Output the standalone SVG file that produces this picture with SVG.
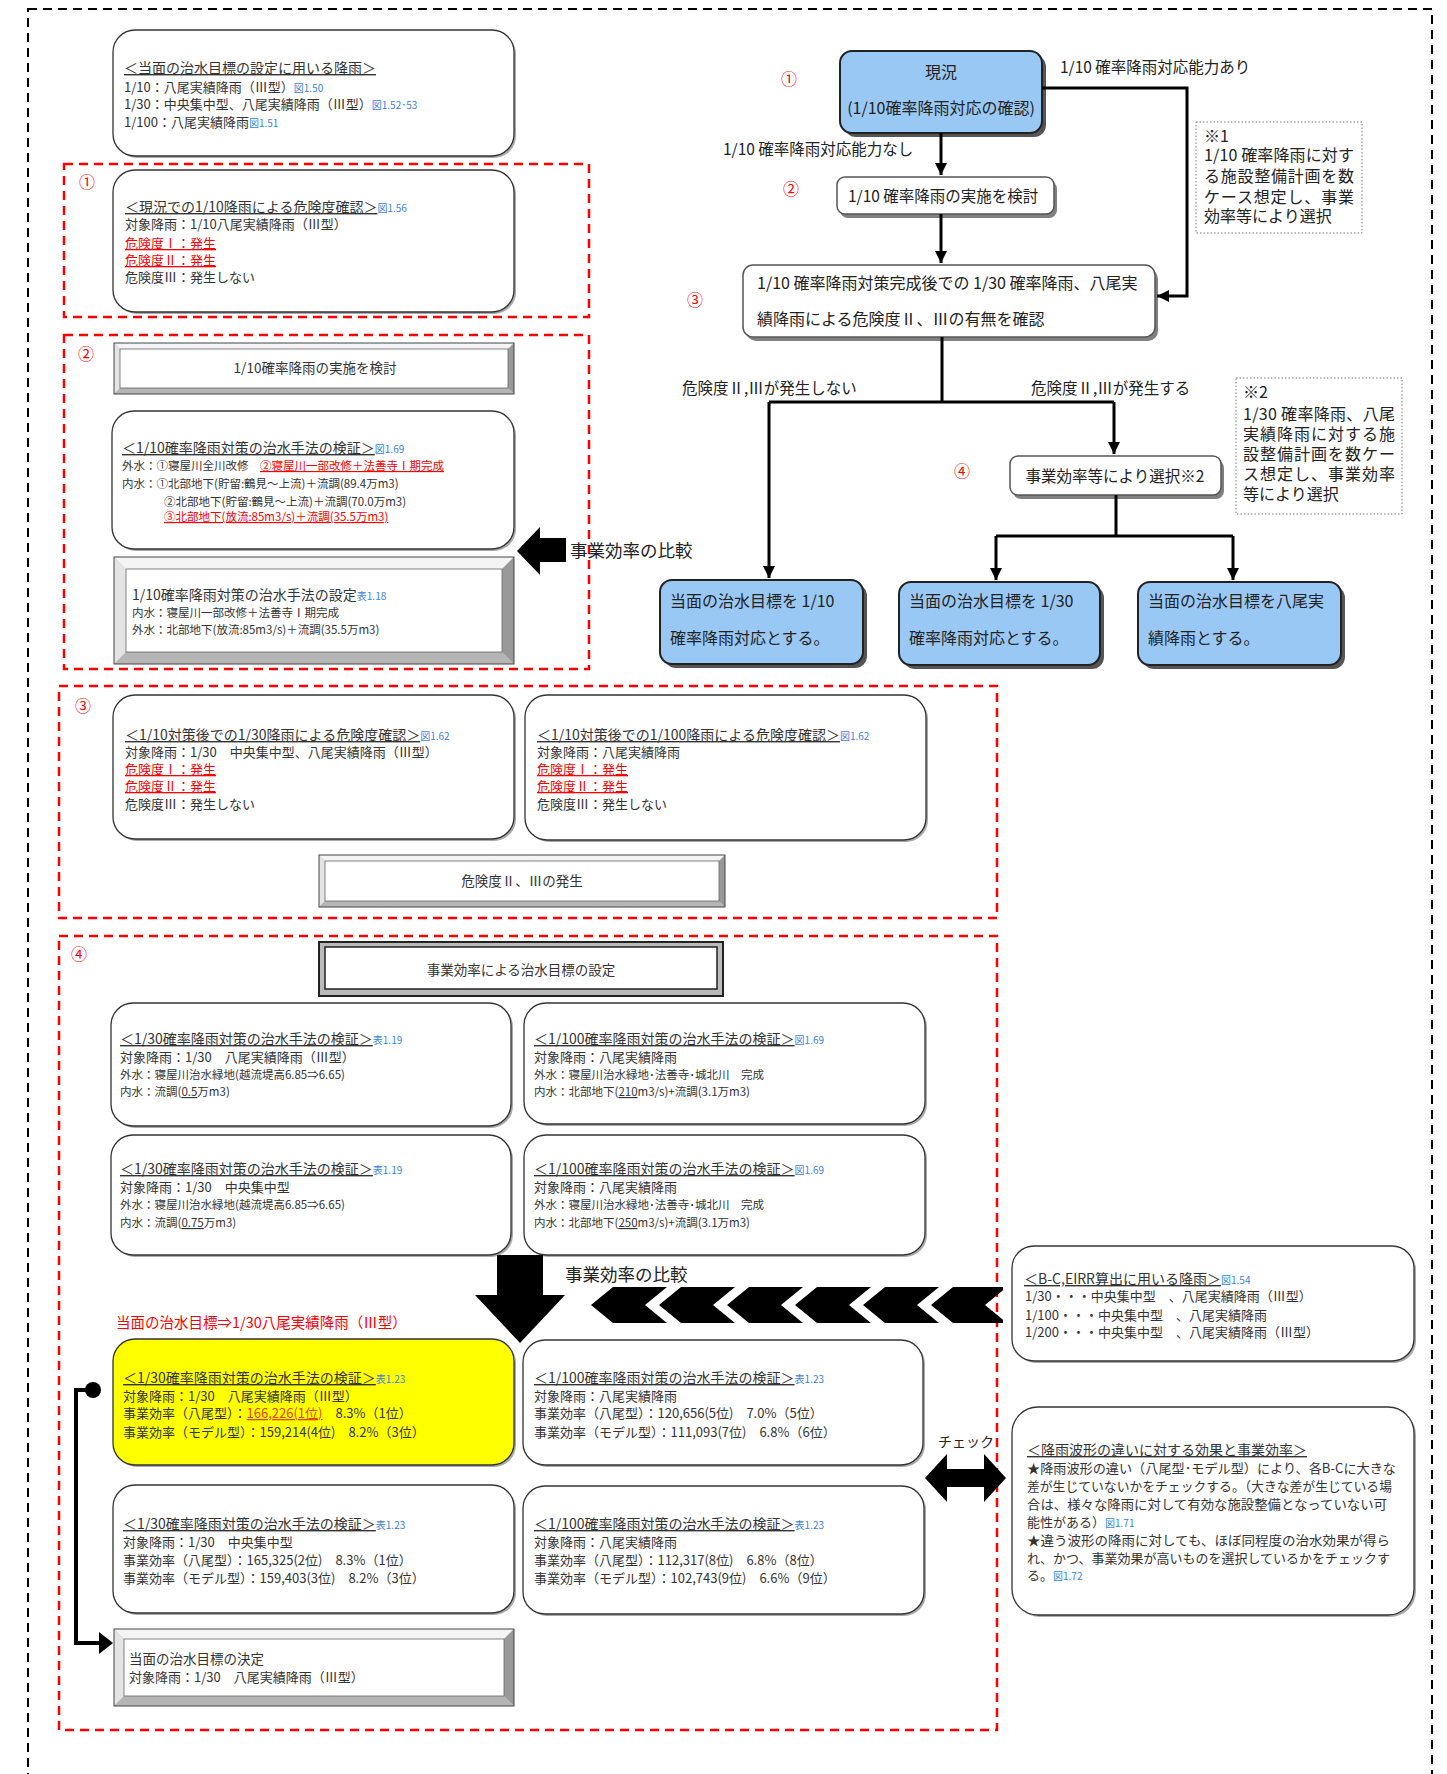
<svg xmlns="http://www.w3.org/2000/svg" width="1447" height="1774" viewBox="0 0 1447 1774">
<defs>
<style>
text{font-family:"Noto Sans CJK JP","Noto Sans",sans-serif;fill:#333}
.h{font-size:14px}
.b{font-size:13px}
.sm{font-size:11.5px}
.u{text-decoration:underline}
.ref{font-size:10px;fill:#3a7fe0}
.rd{fill:#f00}
.box{fill:#fff;stroke:#333;stroke-width:1.3}
.sh{fill:#aaa}
.reg{fill:none;stroke:#f00;stroke-width:2.5;stroke-dasharray:9 6}
.blue{fill:#99c8f5;stroke:#222;stroke-width:2}
.bsh{fill:#555}
.fbox{fill:#fff;stroke:#555;stroke-width:1.5}
.fsh{fill:#808080}
.ln{fill:none;stroke:#000;stroke-width:3}
.fl{font-size:16px;fill:#222}
.lab{font-size:15.5px;fill:#222}
.note{font-size:16px;fill:#222}
.num{font-size:16px;fill:#f00}
.bt{fill:#f4f4f4}.bl{fill:#e4e4e4}.br{fill:#999}.bb{fill:#b5b5b5}
.bin{fill:#fff;stroke:#666;stroke-width:0.8}
.bout{fill:none;stroke:#444;stroke-width:1}
.blk{fill:#000}
.dot{fill:#fff;stroke:#777;stroke-width:1;stroke-dasharray:1.5 2}
.big{font-size:17.5px;fill:#222}
</style>
<marker id="ah" viewBox="0 0 10 10" refX="10" refY="5" markerWidth="12" markerHeight="12" markerUnits="userSpaceOnUse" orient="auto"><path d="M0,0 L10,5 L0,10z" fill="#000"/></marker>
<clipPath id="chclip"><rect x="560" y="1270" width="443" height="70"/></clipPath>
</defs>

<rect x="28" y="9" width="1404" height="1800" fill="none" stroke="#000" stroke-width="2" stroke-dasharray="9 6"/>

<g id="regions">
<rect class="reg" x="64" y="164" width="525" height="153"/>
<text class="num" x="87" y="188" text-anchor="middle">①</text>
<rect class="reg" x="64" y="335" width="525" height="334"/>
<text class="num" x="86" y="360" text-anchor="middle">②</text>
<rect class="reg" x="59" y="686" width="938" height="232"/>
<text class="num" x="83" y="712" text-anchor="middle">③</text>
<rect class="reg" x="59" y="936" width="938" height="794"/>
<text class="num" x="79" y="960" text-anchor="middle">④</text>
</g>

<g id="boxA">
<rect class="sh" x="115" y="32" width="401" height="126" rx="22"/>
<rect class="box" x="113" y="30" width="401" height="126" rx="22"/>
<text class="h" x="124" y="73"><tspan class="u">＜当面の治水目標の設定に用いる降雨＞</tspan></text>
<text class="b" x="124" y="92">1/10：八尾実績降雨（Ⅲ型）<tspan class="ref">図1.50</tspan></text>
<text class="b" x="124" y="109">1/30：中央集中型、八尾実績降雨（Ⅲ型）<tspan class="ref">図1.52･53</tspan></text>
<text class="b" x="124" y="127">1/100：八尾実績降雨<tspan class="ref">図1.51</tspan></text>
</g>

<g id="boxB">
<rect class="sh" x="115" y="172" width="401" height="142" rx="22"/>
<rect class="box" x="113" y="170" width="401" height="142" rx="22"/>
<text class="h" x="125" y="212"><tspan class="u">＜現況での1/10降雨による危険度確認＞</tspan><tspan class="ref">図1.56</tspan></text>
<text class="b" x="125" y="229">対象降雨：1/10八尾実績降雨（Ⅲ型）</text>
<text class="b rd u" x="125" y="248">危険度Ⅰ：発生</text>
<text class="b rd u" x="125" y="265">危険度Ⅱ：発生</text>
<text class="b" x="125" y="282">危険度Ⅲ：発生しない</text>
</g>

<g id="bevel1">
<rect x="114" y="343" width="400" height="51" fill="#ccc"/>
<polygon class="bt" points="114,343 514,343 508,349 120,349"/>
<polygon class="bl" points="114,343 120,349 120,388 114,394"/>
<polygon class="br" points="514,343 514,394 508,388 508,349"/>
<polygon class="bb" points="114,394 514,394 508,388 120,388"/>
<rect class="bin" x="120" y="349" width="388" height="39"/>
<rect class="bout" x="114" y="343" width="400" height="51"/>
<text class="b" x="315" y="373" text-anchor="middle" style="font-size:13.5px">1/10確率降雨の実施を検討</text>
</g>

<g id="box2">
<rect class="sh" x="114" y="413" width="402" height="138" rx="22"/>
<rect class="box" x="112" y="411" width="402" height="138" rx="22"/>
<text class="h" x="122" y="453"><tspan class="u">＜1/10確率降雨対策の治水手法の検証＞</tspan><tspan class="ref">図1.69</tspan></text>
<text class="sm" x="122" y="470">外水：①寝屋川全川改修　<tspan class="rd u">②寝屋川一部改修＋法善寺Ⅰ期完成</tspan></text>
<text class="sm" x="122" y="488">内水：①北部地下(貯留:鶴見～上流)＋流調(89.4万m3)</text>
<text class="sm" x="164" y="506">②北部地下(貯留:鶴見～上流)＋流調(70.0万m3)</text>
<text class="sm rd u" x="164" y="521">③北部地下(放流:85m3/s)＋流調(35.5万m3)</text>
</g>

<g id="bevel2">
<rect x="114" y="557" width="400" height="107" fill="#ccc"/>
<polygon class="bt" points="114,557 514,557 502,569 126,569"/>
<polygon class="bl" points="114,557 126,569 126,652 114,664"/>
<polygon class="br" points="514,557 514,664 502,652 502,569"/>
<polygon class="bb" points="114,664 514,664 502,652 126,652"/>
<rect class="bin" x="126" y="569" width="376" height="83"/>
<rect class="bout" x="114" y="557" width="400" height="107"/>
<text class="h" x="132" y="600">1/10確率降雨対策の治水手法の設定<tspan class="ref">表1.18</tspan></text>
<text class="sm" x="132" y="617">内水：寝屋川一部改修＋法善寺Ⅰ期完成</text>
<text class="sm" x="132" y="634">外水：北部地下(放流:85m3/s)＋流調(35.5万m3)</text>
</g>

<g id="arrowCompare1">
<polygon class="blk" points="517,551 540,527 540,538 566,538 566,562 540,562 540,575"/>
<text class="big" x="570" y="557">事業効率の比較</text>
</g>

<g id="box3L">
<rect class="sh" x="115" y="697" width="401" height="144" rx="22"/>
<rect class="box" x="113" y="695" width="401" height="144" rx="22"/>
<text class="h" x="125" y="740"><tspan class="u">＜1/10対策後での1/30降雨による危険度確認＞</tspan><tspan class="ref">図1.62</tspan></text>
<text class="b" x="125" y="757">対象降雨：1/30　中央集中型、八尾実績降雨（Ⅲ型）</text>
<text class="b rd u" x="125" y="774">危険度Ⅰ：発生</text>
<text class="b rd u" x="125" y="791">危険度Ⅱ：発生</text>
<text class="b" x="125" y="809">危険度Ⅲ：発生しない</text>
</g>

<g id="box3R">
<rect class="sh" x="527" y="697" width="401" height="145" rx="22"/>
<rect class="box" x="525" y="695" width="401" height="145" rx="22"/>
<text class="h" x="537" y="740"><tspan class="u">＜1/10対策後での1/100降雨による危険度確認＞</tspan><tspan class="ref">図1.62</tspan></text>
<text class="b" x="537" y="757">対象降雨：八尾実績降雨</text>
<text class="b rd u" x="537" y="774">危険度Ⅰ：発生</text>
<text class="b rd u" x="537" y="791">危険度Ⅱ：発生</text>
<text class="b" x="537" y="809">危険度Ⅲ：発生しない</text>
</g>

<g id="bevel3">
<rect x="319" y="855" width="406" height="52" fill="#ccc"/>
<polygon class="bt" points="319,855 725,855 719,861 325,861"/>
<polygon class="bl" points="319,855 325,861 325,901 319,907"/>
<polygon class="br" points="725,855 725,907 719,901 719,861"/>
<polygon class="bb" points="319,907 725,907 719,901 325,901"/>
<rect class="bin" x="325" y="861" width="394" height="40"/>
<rect class="bout" x="319" y="855" width="406" height="52"/>
<text class="b" x="522" y="886" text-anchor="middle" style="font-size:13.5px">危険度Ⅱ、Ⅲの発生</text>
</g>

<g id="title4">
<rect x="319" y="942" width="404" height="54" fill="#bbb" stroke="#222" stroke-width="2"/>
<rect x="325" y="947" width="392" height="42" fill="#fff" stroke="#222" stroke-width="1.5"/>
<text class="b" x="521" y="975" text-anchor="middle" style="font-size:13.5px">事業効率による治水目標の設定</text>
</g>

<g id="box4a">
<rect class="sh" x="113" y="1005" width="400" height="123" rx="22"/>
<rect class="box" x="111" y="1003" width="400" height="123" rx="22"/>
<text class="h" x="120" y="1044"><tspan class="u">＜1/30確率降雨対策の治水手法の検証＞</tspan><tspan class="ref">表1.19</tspan></text>
<text class="b" x="120" y="1062">対象降雨：1/30　八尾実績降雨（Ⅲ型）</text>
<text class="sm" x="120" y="1079">外水：寝屋川治水緑地(越流堤高6.85⇒6.65)</text>
<text class="sm" x="120" y="1096">内水：流調(<tspan class="u">0.5</tspan>万m3)</text>
</g>

<g id="box4b">
<rect class="sh" x="526" y="1005" width="401" height="121" rx="22"/>
<rect class="box" x="524" y="1003" width="401" height="121" rx="22"/>
<text class="h" x="534" y="1044"><tspan class="u">＜1/100確率降雨対策の治水手法の検証＞</tspan><tspan class="ref">図1.69</tspan></text>
<text class="b" x="534" y="1062">対象降雨：八尾実績降雨</text>
<text class="sm" x="534" y="1079">外水：寝屋川治水緑地･法善寺･城北川　完成</text>
<text class="sm" x="534" y="1096">内水：北部地下(<tspan class="u">210</tspan>m3/s)+流調(3.1万m3)</text>
</g>

<g id="box4c">
<rect class="sh" x="113" y="1137" width="400" height="120" rx="22"/>
<rect class="box" x="111" y="1135" width="400" height="120" rx="22"/>
<text class="h" x="120" y="1174"><tspan class="u">＜1/30確率降雨対策の治水手法の検証＞</tspan><tspan class="ref">表1.19</tspan></text>
<text class="b" x="120" y="1192">対象降雨：1/30　中央集中型</text>
<text class="sm" x="120" y="1209">外水：寝屋川治水緑地(越流堤高6.85⇒6.65)</text>
<text class="sm" x="120" y="1227">内水：流調(<tspan class="u">0.75</tspan>万m3)</text>
</g>

<g id="box4d">
<rect class="sh" x="526" y="1137" width="401" height="120" rx="22"/>
<rect class="box" x="524" y="1135" width="401" height="120" rx="22"/>
<text class="h" x="534" y="1174"><tspan class="u">＜1/100確率降雨対策の治水手法の検証＞</tspan><tspan class="ref">図1.69</tspan></text>
<text class="b" x="534" y="1192">対象降雨：八尾実績降雨</text>
<text class="sm" x="534" y="1209">外水：寝屋川治水緑地･法善寺･城北川　完成</text>
<text class="sm" x="534" y="1227">内水：北部地下(<tspan class="u">250</tspan>m3/s)+流調(3.1万m3)</text>
</g>

<g id="arrowDown">
<polygon class="blk" points="497,1255 543,1255 543,1295 565,1295 520,1343 475,1295 497,1295"/>
</g>

<g id="compare2">
<text class="big" x="565" y="1281">事業効率の比較</text>
<g clip-path="url(#chclip)" class="blk">
<polygon points="591,1305 613,1287 667,1287 645,1305 667,1323 613,1323"/>
<polygon points="659,1305 681,1287 735,1287 713,1305 735,1323 681,1323"/>
<polygon points="727,1305 749,1287 803,1287 781,1305 803,1323 749,1323"/>
<polygon points="795,1305 817,1287 871,1287 849,1305 871,1323 817,1323"/>
<polygon points="863,1305 885,1287 939,1287 917,1305 939,1323 885,1323"/>
<polygon points="931,1305 953,1287 1007,1287 985,1305 1007,1323 953,1323"/>
</g>
</g>

<text id="goalLabel" class="rd" x="116" y="1328" style="font-size:14.5px">当面の治水目標⇒1/30八尾実績降雨（Ⅲ型）</text>

<g id="box5a">
<rect class="sh" x="115" y="1341" width="401" height="126" rx="22"/>
<rect x="113" y="1339" width="401" height="126" rx="22" fill="#ffff00" stroke="#333" stroke-width="1.3"/>
<text class="h" x="123" y="1383"><tspan class="u">＜1/30確率降雨対策の治水手法の検証＞</tspan><tspan class="ref">表1.23</tspan></text>
<text class="b" x="123" y="1401">対象降雨：1/30　八尾実績降雨（Ⅲ型）</text>
<text class="b" x="123" y="1418">事業効率（八尾型）：<tspan class="u" style="fill:#e8400c">166,226(1位)</tspan>　8.3%（1位）</text>
<text class="b" x="123" y="1437">事業効率（モデル型）：159,214(4位)　8.2%（3位）</text>
</g>

<g id="box5b">
<rect class="sh" x="525" y="1342" width="400" height="125" rx="22"/>
<rect class="box" x="523" y="1340" width="400" height="125" rx="22"/>
<text class="h" x="534" y="1383"><tspan class="u">＜1/100確率降雨対策の治水手法の検証＞</tspan><tspan class="ref">表1.23</tspan></text>
<text class="b" x="534" y="1401">対象降雨：八尾実績降雨</text>
<text class="b" x="534" y="1418">事業効率（八尾型）：120,656(5位)　7.0%（5位）</text>
<text class="b" x="534" y="1437">事業効率（モデル型）：111,093(7位)　6.8%（6位）</text>
</g>

<g id="box6a">
<rect class="sh" x="115" y="1487" width="401" height="128" rx="22"/>
<rect class="box" x="113" y="1485" width="401" height="128" rx="22"/>
<text class="h" x="123" y="1529"><tspan class="u">＜1/30確率降雨対策の治水手法の検証＞</tspan><tspan class="ref">表1.23</tspan></text>
<text class="b" x="123" y="1547">対象降雨：1/30　中央集中型</text>
<text class="b" x="123" y="1565">事業効率（八尾型）：165,325(2位)　8.3%（1位）</text>
<text class="b" x="123" y="1583">事業効率（モデル型）：159,403(3位)　8.2%（3位）</text>
</g>

<g id="box6b">
<rect class="sh" x="525" y="1488" width="401" height="128" rx="22"/>
<rect class="box" x="523" y="1486" width="401" height="128" rx="22"/>
<text class="h" x="534" y="1529"><tspan class="u">＜1/100確率降雨対策の治水手法の検証＞</tspan><tspan class="ref">表1.23</tspan></text>
<text class="b" x="534" y="1547">対象降雨：八尾実績降雨</text>
<text class="b" x="534" y="1565">事業効率（八尾型）：112,317(8位)　6.8%（8位）</text>
<text class="b" x="534" y="1583">事業効率（モデル型）：102,743(9位)　6.6%（9位）</text>
</g>

<g id="finalBox">
<rect x="114" y="1629" width="400" height="77" fill="#ccc"/>
<polygon class="bt" points="114,1629 514,1629 504,1639 124,1639"/>
<polygon class="bl" points="114,1629 124,1639 124,1696 114,1706"/>
<polygon class="br" points="514,1629 514,1706 504,1696 504,1639"/>
<polygon class="bb" points="114,1706 514,1706 504,1696 124,1696"/>
<rect class="bin" x="124" y="1639" width="380" height="57"/>
<rect class="bout" x="114" y="1629" width="400" height="77"/>
<text class="b" x="129" y="1664" style="font-size:13.5px">当面の治水目標の決定</text>
<text class="b" x="129" y="1682">対象降雨：1/30　八尾実績降雨（Ⅲ型）</text>
</g>

<g id="boxBC">
<rect class="sh" x="1014" y="1248" width="402" height="115" rx="22"/>
<rect class="box" x="1012" y="1246" width="402" height="115" rx="22"/>
<text class="h" x="1024" y="1284"><tspan class="u">＜B-C,EIRR算出に用いる降雨＞</tspan><tspan class="ref">図1.54</tspan></text>
<text class="b" x="1025" y="1301">1/30・・・中央集中型　、八尾実績降雨（Ⅲ型）</text>
<text class="b" x="1025" y="1320">1/100・・・中央集中型　、八尾実績降雨</text>
<text class="b" x="1025" y="1337">1/200・・・中央集中型　、八尾実績降雨（Ⅲ型）</text>
</g>

<g id="boxCheck">
<rect class="sh" x="1014" y="1409" width="402" height="208" rx="26"/>
<rect class="box" x="1012" y="1407" width="402" height="208" rx="26"/>
<text class="h" x="1027" y="1455"><tspan class="u">＜降雨波形の違いに対する効果と事業効率＞</tspan></text>
<text class="b" x="1027" y="1473" textLength="369" lengthAdjust="spacingAndGlyphs">★降雨波形の違い（八尾型･モデル型）により、各B-Cに大きな</text>
<text class="b" x="1027" y="1491" textLength="365" lengthAdjust="spacingAndGlyphs">差が生じていないかをチェックする。（大きな差が生じている場</text>
<text class="b" x="1027" y="1509" textLength="360" lengthAdjust="spacingAndGlyphs">合は、様々な降雨に対して有効な施設整備となっていない可</text>
<text class="b" x="1027" y="1527">能性がある）<tspan class="ref">図1.71</tspan></text>
<text class="b" x="1027" y="1545" textLength="363" lengthAdjust="spacingAndGlyphs">★違う波形の降雨に対しても、ほぼ同程度の治水効果が得ら</text>
<text class="b" x="1027" y="1563" textLength="363" lengthAdjust="spacingAndGlyphs">れ、かつ、事業効果が高いものを選択しているかをチェックす</text>
<text class="b" x="1027" y="1580">る。<tspan class="ref">図1.72</tspan></text>
</g>

<g id="checkArrow">
<polygon class="blk" points="925,1478 947,1454 947,1469 984,1469 984,1454 1006,1478 984,1502 984,1487 947,1487 947,1502"/>
<text x="938" y="1447" style="font-size:14px;fill:#222">チェック</text>
</g>

<g id="leftConnector">
<circle cx="93" cy="1390" r="8" fill="#000"/>
<path d="M93,1390 H76 V1643 H101" fill="none" stroke="#000" stroke-width="4"/>
<polygon class="blk" points="113,1643 99,1632 99,1654"/>
</g>

<g id="n_genkyo">
<rect class="bsh" x="844" y="55" width="202" height="82" rx="12"/>
<rect class="blue" x="840" y="51" width="202" height="82" rx="12"/>
<text class="fl" x="941" y="78" text-anchor="middle">現況</text>
<text class="fl" x="941" y="114" text-anchor="middle">(1/10確率降雨対応の確認)</text>
<text class="num" x="789" y="85" text-anchor="middle">①</text>
</g>

<g id="n_kento">
<rect class="fsh" x="840" y="181" width="217" height="37" rx="8"/>
<rect class="fbox" x="837" y="177" width="217" height="37" rx="8"/>
<text class="fl" x="848" y="202" style="font-size:15.5px">1/10 確率降雨の実施を検討</text>
<text class="num" x="791" y="195" text-anchor="middle">②</text>
</g>

<g id="n_kakunin">
<rect class="fsh" x="746" y="269" width="412" height="72" rx="10"/>
<rect class="fbox" x="743" y="265" width="412" height="72" rx="10"/>
<text class="fl" x="757" y="289">1/10 確率降雨対策完成後での 1/30 確率降雨、八尾実</text>
<text class="fl" x="757" y="325">績降雨による危険度Ⅱ、Ⅲの有無を確認</text>
<text class="num" x="695" y="306" text-anchor="middle">③</text>
</g>

<g id="n_sentaku">
<rect class="fsh" x="1013" y="460" width="211" height="39" rx="8"/>
<rect class="fbox" x="1010" y="456" width="211" height="39" rx="8"/>
<text class="fl" x="1115" y="482" text-anchor="middle" style="font-size:15.5px">事業効率等により選択※2</text>
<text class="num" x="962" y="477" text-anchor="middle">④</text>
</g>

<g id="n_goal10">
<rect class="bsh" x="664" y="584" width="203" height="84" rx="12"/>
<rect class="blue" x="660" y="580" width="203" height="84" rx="12"/>
<text class="fl" x="670" y="607">当面の治水目標を 1/10</text>
<text class="fl" x="670" y="644">確率降雨対応とする。</text>
</g>

<g id="n_goal30">
<rect class="bsh" x="903" y="586" width="201" height="83" rx="12"/>
<rect class="blue" x="899" y="582" width="201" height="83" rx="12"/>
<text class="fl" x="909" y="607">当面の治水目標を 1/30</text>
<text class="fl" x="909" y="644">確率降雨対応とする。</text>
</g>

<g id="n_goalYao">
<rect class="bsh" x="1142" y="586" width="203" height="83" rx="12"/>
<rect class="blue" x="1138" y="582" width="203" height="83" rx="12"/>
<text class="fl" x="1148" y="607">当面の治水目標を八尾実</text>
<text class="fl" x="1148" y="644">績降雨とする。</text>
</g>

<g id="note1">
<rect class="dot" x="1196" y="122" width="166" height="111"/>
<text class="note" x="1204" y="142">※1</text>
<text class="note" x="1204" y="161" textLength="150" lengthAdjust="spacing">1/10 確率降雨に対す</text>
<text class="note" x="1204" y="182" textLength="150" lengthAdjust="spacing">る施設整備計画を数</text>
<text class="note" x="1204" y="203" textLength="150" lengthAdjust="spacing">ケース想定し、事業</text>
<text class="note" x="1204" y="222">効率等により選択</text>
</g>

<g id="note2">
<rect class="dot" x="1236" y="378" width="166" height="136"/>
<text class="note" x="1243" y="398">※2</text>
<text class="note" x="1243" y="420" textLength="152" lengthAdjust="spacing">1/30 確率降雨、八尾</text>
<text class="note" x="1243" y="440" textLength="152" lengthAdjust="spacing">実績降雨に対する施</text>
<text class="note" x="1243" y="460" textLength="152" lengthAdjust="spacing">設整備計画を数ケー</text>
<text class="note" x="1243" y="480" textLength="152" lengthAdjust="spacing">ス想定し、事業効率</text>
<text class="note" x="1243" y="500">等により選択</text>
</g>

<g id="connectors">
<path class="ln" d="M941,133 V175" marker-end="url(#ah)"/>
<path class="ln" d="M941,214 V263" marker-end="url(#ah)"/>
<path class="ln" d="M1042,88 H1187 V296 H1157" marker-end="url(#ah)"/>
<path class="ln" d="M942,337 V402"/>
<path class="ln" d="M769,402 H1114"/>
<path class="ln" d="M769,402 V578" marker-end="url(#ah)"/>
<path class="ln" d="M1114,402 V454" marker-end="url(#ah)"/>
<path class="ln" d="M1116,495 V536"/>
<path class="ln" d="M996,536 H1233"/>
<path class="ln" d="M996,536 V580" marker-end="url(#ah)"/>
<path class="ln" d="M1233,536 V580" marker-end="url(#ah)"/>
<text class="lab" x="1060" y="73">1/10 確率降雨対応能力あり</text>
<text class="lab" x="723" y="155">1/10 確率降雨対応能力なし</text>
<text class="lab" x="682" y="394">危険度Ⅱ,Ⅲが発生しない</text>
<text class="lab" x="1031" y="394">危険度Ⅱ,Ⅲが発生する</text>
</g>
</svg>
